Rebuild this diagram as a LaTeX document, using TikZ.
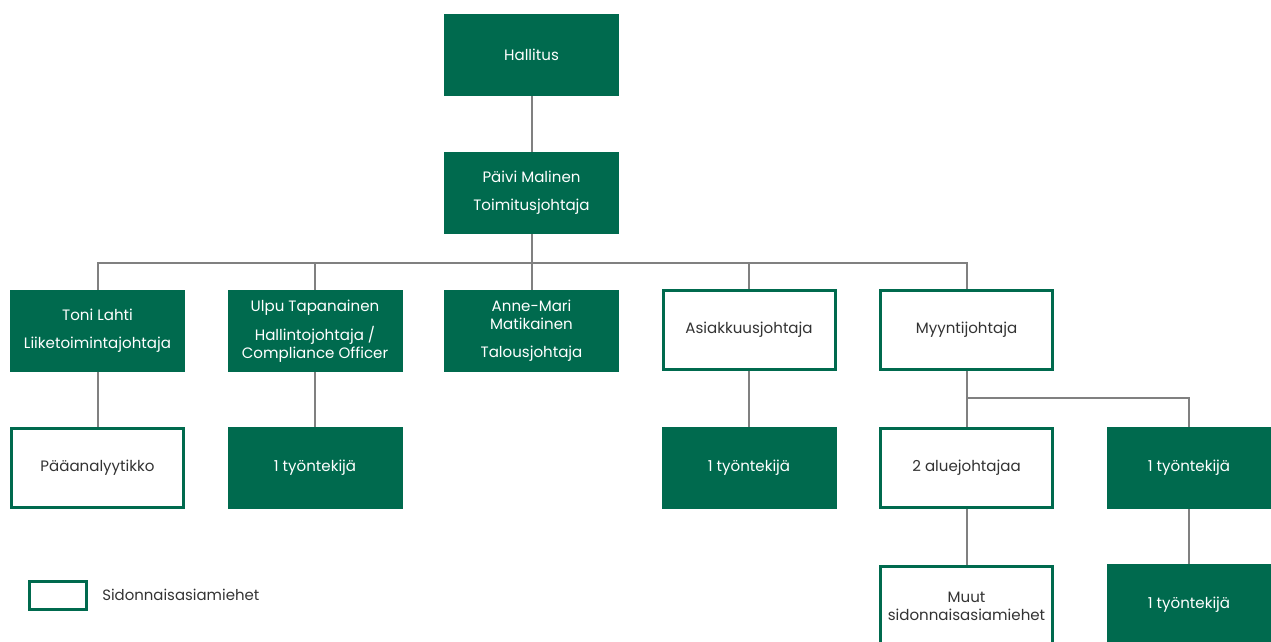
\documentclass[tikz,border=0pt]{standalone}
\usepackage{fontspec}
\setmainfont{Poppins}
\definecolor{vihrea}{HTML}{006A4E}
\definecolor{viiva}{HTML}{808080}
\definecolor{teksti}{HTML}{333333}
\begin{document}
\begin{tikzpicture}[x=0.75pt, y=-0.75pt,
    laatikko/.style={rectangle, align=center, inner sep=0pt, font=\fontsize{11.3}{13.5}\selectfont},
    taysi/.style={laatikko, fill=vihrea, text=white, minimum width=131.25pt, minimum height=61.5pt},
    reuna/.style={laatikko, draw=vihrea, line width=2.25pt, fill=white, text=teksti, minimum width=129pt, minimum height=59.5pt},
    yhteys/.style={draw=viiva, line width=1.5pt}]
    \useasboundingbox (0,0) rectangle (1271,642);

    \node[taysi] (hallitus) at (531.5,55) {Hallitus};
    \node[taysi] (paivi) at (531.5,193) {Päivi Malinen\\[7.5pt] Toimitusjohtaja};

    \node[taysi] (toni) at (97.5,331) {Toni Lahti\\[7.5pt] Liiketoimintajohtaja};
    \node[taysi] (ulpu) at (315,331) {Ulpu Tapanainen\\[7.5pt] Hallintojohtaja /\\ Compliance Officer};
    \node[taysi] (anne) at (531.5,331) {Anne-Mari\\ Matikainen\\[7.5pt] Talousjohtaja};
    \node[reuna] (asiakkuus) at (749,330) {Asiakkuusjohtaja};
    \node[reuna] (myynti) at (966.5,330) {Myyntijohtaja};

    \node[reuna] (analyytikko) at (97.5,468) {Pääanalyytikko};
    \node[taysi] (tyo1) at (315,468) {1 työntekijä};
    \node[taysi] (tyo2) at (749,468) {1 työntekijä};
    \node[reuna] (alue) at (966.5,468) {2 aluejohtajaa};
    \node[taysi, minimum width=123pt] (tyo3) at (1189,468) {1 työntekijä};

    \node[reuna] (muut) at (966.5,606) {Muut\\ sidonnaisasiamiehet};
    \node[taysi, minimum width=123pt] (tyo4) at (1189,605) {1 työntekijä};

    % yhteydet
    \draw[yhteys] (hallitus.south) -- (paivi.north);
    \draw[yhteys] (paivi.south) -- ++(0,29) coordinate (vayla);
    \draw[yhteys] (vayla) -| (toni.north);
    \draw[yhteys] (vayla) -| (ulpu.north);
    \draw[yhteys] (vayla) -- (anne.north);
    \draw[yhteys] (vayla) -| (asiakkuus.north);
    \draw[yhteys] (vayla) -| (myynti.north);

    \draw[yhteys] (toni.south) -- (analyytikko.north);
    \draw[yhteys] (ulpu.south) -- (tyo1.north);
    \draw[yhteys] (asiakkuus.south) -- (tyo2.north);
    \draw[yhteys] (myynti.south) -- (alue.north);
    \draw[yhteys] (myynti.south) -- ++(0,27) coordinate (haara);
    \draw[yhteys] (haara) -| (tyo3.north);
    \draw[yhteys] (alue.south) -- (muut.north);
    \draw[yhteys] (tyo3.south) -- (tyo4.north);

    % selite
    \node[laatikko, draw=vihrea, line width=2.25pt, minimum width=43pt, minimum height=21.5pt] (selite) at (58,595.5) {};
    \node[laatikko, anchor=west, text=teksti, font=\fontsize{11.2}{13}\selectfont] (selitys) at (102,595) {Sidonnaisasiamiehet};
\end{tikzpicture}
\end{document}
